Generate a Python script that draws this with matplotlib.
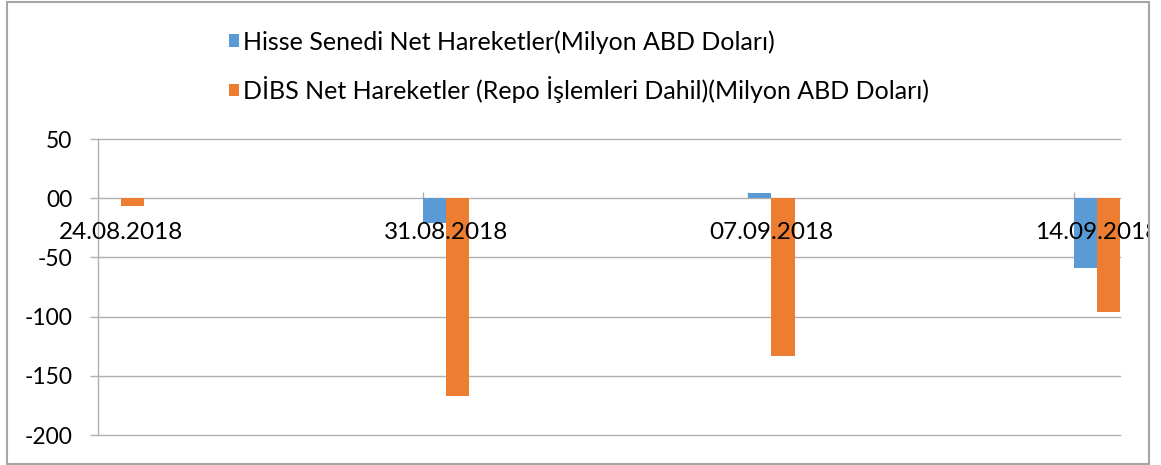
import matplotlib
matplotlib.use("Agg")
import matplotlib.pyplot as plt
from matplotlib.patches import Rectangle, Patch
from matplotlib.transforms import Bbox, TransformedBbox
import datetime as dt

# ---- data ----
dates = ["24.08.2018", "31.08.2018", "07.09.2018", "14.09.2018"]
hisse = [0.0, -21.0, 4.7, -59.0]
dibs = [-6.6, -167.0, -133.0, -96.0]
series_names = ["Hisse Senedi Net Hareketler(Milyon ABD Doları)",
                "DİBS Net Hareketler (Repo İşlemleri Dahil)(Milyon ABD Doları)"]
yticks = [50, 0, -50, -100, -150, -200]

BLUE = "#5B9BD5"
ORANGE = "#ED7D31"
GRID = "#b0b0b0"
W, H = 1161, 465

plt.rcParams['font.family'] = ['Lato', 'DejaVu Sans']
fig = plt.figure(figsize=(W / 100, H / 100), dpi=100)

# day offsets on a date axis
d0 = dt.datetime.strptime(dates[0], "%d.%m.%Y")
days = [(dt.datetime.strptime(s, "%d.%m.%Y") - d0).days for s in dates]

ax = fig.add_axes([97.5 / W, (H - 435) / H, (1120 - 97.5) / W, (435 - 139) / H])
bw = 0.5
ax.bar([d for d in days], hisse, width=bw, align='edge', color=BLUE, zorder=3)
ax.bar([d + bw for d in days], dibs, width=bw, align='edge', color=ORANGE, zorder=3)

ax.set_xlim(days[0], days[-1] + 1)
ax.set_ylim(-200, 50)
ax.set_yticks(yticks)
ax.set_yticklabels(["00" if v == 0 else str(v) for v in yticks], fontsize=16.5)
ax.yaxis.grid(True, color=GRID, linewidth=1.0, zorder=0)
for gl in ax.get_ygridlines():
    gl.set_clip_on(False)
ax.set_axisbelow(True)
for s in ['top', 'right', 'bottom']:
    ax.spines[s].set_visible(False)
ax.spines['left'].set_color(GRID)
ax.spines['left'].set_linewidth(1.0)
ax.tick_params(axis='y', length=6, width=1.0, color=GRID, pad=12, labelcolor='black')

# category tick marks at zero line
ax.set_xticks([])
ax.vlines(days, 0, 6.5 / 1.1835, color=GRID, linewidth=1.0, zorder=2)

clipbox = TransformedBbox(Bbox([[7 / W, 0], [1149 / W, 1]]), fig.transFigure)
for d, lab in zip(days, dates):
    t = ax.annotate(lab, xy=(d + 0.5, 0), xytext=(0, -25), textcoords='offset points',
                    ha='center', va='center', fontsize=17.5, color='black',
                    annotation_clip=False, zorder=5)
    t.set_clip_box(clipbox)
    t.set_clip_on(True)

# outer chart border
fig.patches.append(Rectangle((7 / W, 1 / H), (1149 - 7) / W, (464 - 2) / H,
                             transform=fig.transFigure, fill=False,
                             edgecolor="#a6a6a6", linewidth=1.5))

handles = [Patch(facecolor=BLUE), Patch(facecolor=ORANGE)]
fig.legend(handles, series_names, loc='upper left',
           bbox_to_anchor=(219 / W, 1 - 20 / H), frameon=False, fontsize=18,
           handlelength=0.4, handleheight=0.4, handletextpad=0.15,
           labelspacing=0.9, borderaxespad=0)

fig.savefig("out.png", dpi=100)
